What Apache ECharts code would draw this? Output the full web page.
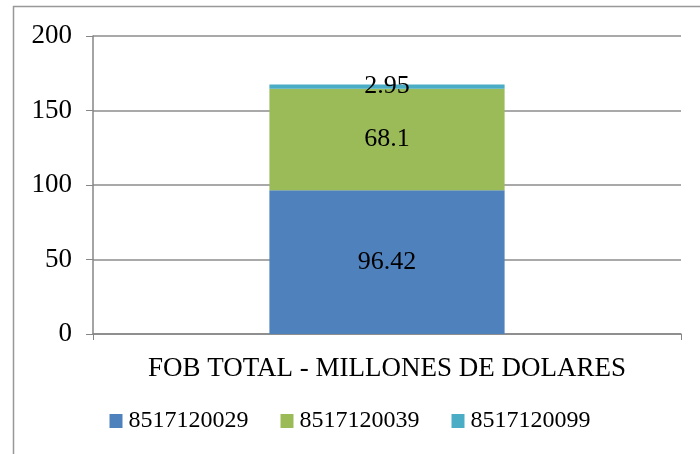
<!DOCTYPE html>
<html>
<head>
<meta charset="utf-8">
<script src="https://cdn.jsdelivr.net/npm/echarts@6/dist/echarts.min.js"></script>
<style>
  html, body { margin: 0; padding: 0; background: #fff; }
  #chart { width: 700px; height: 454px; }
</style>
</head>
<body>
<div id="chart"></div>
<script>
const categories = ['FOB TOTAL - MILLONES DE DOLARES']
const seriesNames = ['8517120029', '8517120039', '8517120099']
const seriesValues = [[96.42], [68.1], [2.95]]
const colors = ['#4F81BD', '#9BBB59', '#4BACC6']

const font = '"Liberation Serif", "Times New Roman", serif'
const chart = echarts.init(document.getElementById('chart'))

const option = {
  animation: false,
  textStyle: { fontFamily: font },
  graphic: [
    { type: 'line', shape: { x1: 13, y1: 6.5, x2: 700, y2: 6.5 }, style: { stroke: '#999', lineWidth: 1.5 } },
    { type: 'line', shape: { x1: 13.5, y1: 6, x2: 13.5, y2: 454 }, style: { stroke: '#999', lineWidth: 1.5 } }
  ],
  grid: { left: 93, right: 19, top: 36, bottom: 120, containLabel: false },
  legend: {
    top: 404,
    left: 'center',
    itemWidth: 13,
    itemHeight: 14,
    itemGap: 32,
    icon: 'rect',
    textStyle: { fontFamily: font, fontSize: 24, color: '#000', padding: [0, 0, 0, 1] },
    data: seriesNames
  },
  xAxis: {
    type: 'category',
    data: categories,
    axisLine: { lineStyle: { color: '#868686', width: 1.5 } },
    axisTick: { show: true, length: 6, lineStyle: { color: '#868686' } },
    axisLabel: { margin: 21, fontSize: 27, color: '#000', fontFamily: font }
  },
  yAxis: {
    type: 'value',
    min: 0,
    max: 200,
    interval: 50,
    axisLine: { show: true, lineStyle: { color: '#868686', width: 1.5 } },
    axisTick: { show: true, length: 7, lineStyle: { color: '#868686' } },
    axisLabel: { margin: 21, fontSize: 27, color: '#000', fontFamily: font },
    splitLine: { lineStyle: { color: '#8c8c8c', width: 1.5 } }
  },
  series: seriesNames.map((name, i) => ({
    name,
    type: 'bar',
    stack: 'total',
    barWidth: '40%',
    data: seriesValues[i],
    itemStyle: { color: colors[i] },
    label: {
      show: true,
      position: 'inside',
      fontSize: 26,
      color: '#000',
      fontFamily: font
    }
  }))
}

chart.setOption(option)
</script>
</body>
</html>
